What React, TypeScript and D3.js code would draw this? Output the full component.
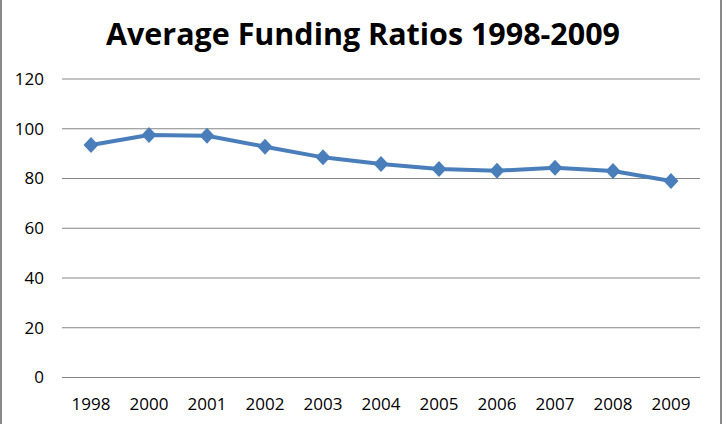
import React from "react"
import * as d3 from "d3"

const years = ["1998", "2000", "2001", "2002", "2003", "2004", "2005", "2006", "2007", "2008", "2009"]
const ratios = [93.5, 97.5, 97.2, 92.8, 88.5, 85.8, 83.8, 83.1, 84.3, 83.0, 79.0]
const yTicks = [0, 20, 40, 60, 80, 100, 120]

const W = 726
const H = 424
const margin = { left: 62, right: 26, top: 79, bottom: 46.5 }
const lineColor = "#4a7ebb"
const font = "'Open Sans', 'Liberation Sans', sans-serif"

const App: React.FC = () => {
  const x = d3
    .scaleBand<string>()
    .domain(years)
    .range([margin.left, W - margin.right])
  const y = d3
    .scaleLinear()
    .domain([0, 120])
    .range([H - margin.bottom, margin.top])

  const points = years.map((yr, i) => ({
    yr,
    v: ratios[i],
    cx: (x(yr) ?? 0) + x.bandwidth() / 2,
    cy: y(ratios[i]),
  }))

  const line = d3
    .line<{ cx: number; cy: number }>()
    .x((d) => d.cx)
    .y((d) => d.cy)

  const diamond = (cx: number, cy: number) =>
    `M${cx},${cy - 8}L${cx + 7.5},${cy}L${cx},${cy + 8}L${cx - 7.5},${cy}Z`

  return (
    <svg
      width={W}
      height={H}
      style={{ position: "absolute", left: 0, top: 0, background: "#fff" }}
    >
      <rect x={0} y={0} width={W} height={H} fill="#fff" />
      {/* frame edges */}
      <line x1={1} x2={1} y1={0} y2={H} stroke="#8a8a8a" strokeWidth={2} />
      <line x1={721} x2={721} y1={0} y2={H} stroke="#8a8a8a" strokeWidth={2} />

      <text
        x={W / 2}
        y={45}
        textAnchor="middle"
        fontFamily={font}
        fontWeight="bold"
        fontSize={31}
        textLength={514}
        lengthAdjust="spacingAndGlyphs"
        fill="#000"
      >
        Average Funding Ratios 1998-2009
      </text>

      {yTicks.map((t) => (
        <g key={t}>
          <line
            x1={margin.left}
            x2={W - margin.right}
            y1={y(t)}
            y2={y(t)}
            stroke="#868686"
            strokeWidth={1}
          />
          <text
            x={44}
            y={y(t)}
            dy="0.35em"
            textAnchor="end"
            fontFamily={font}
            fontSize={17}
            fill="#000"
          >
            {t}
          </text>
        </g>
      ))}

      {years.map((yr) => (
        <text
          key={yr}
          x={(x(yr) ?? 0) + x.bandwidth() / 2}
          y={410}
          textAnchor="middle"
          fontFamily={font}
          fontSize={17}
          fill="#000"
        >
          {yr}
        </text>
      ))}

      <path
        d={line(points) ?? ""}
        fill="none"
        stroke={lineColor}
        strokeWidth={4}
        strokeLinejoin="round"
      />
      {points.map((p) => (
        <path key={p.yr} d={diamond(p.cx, p.cy)} fill={lineColor} />
      ))}
    </svg>
  )
}

export default App
